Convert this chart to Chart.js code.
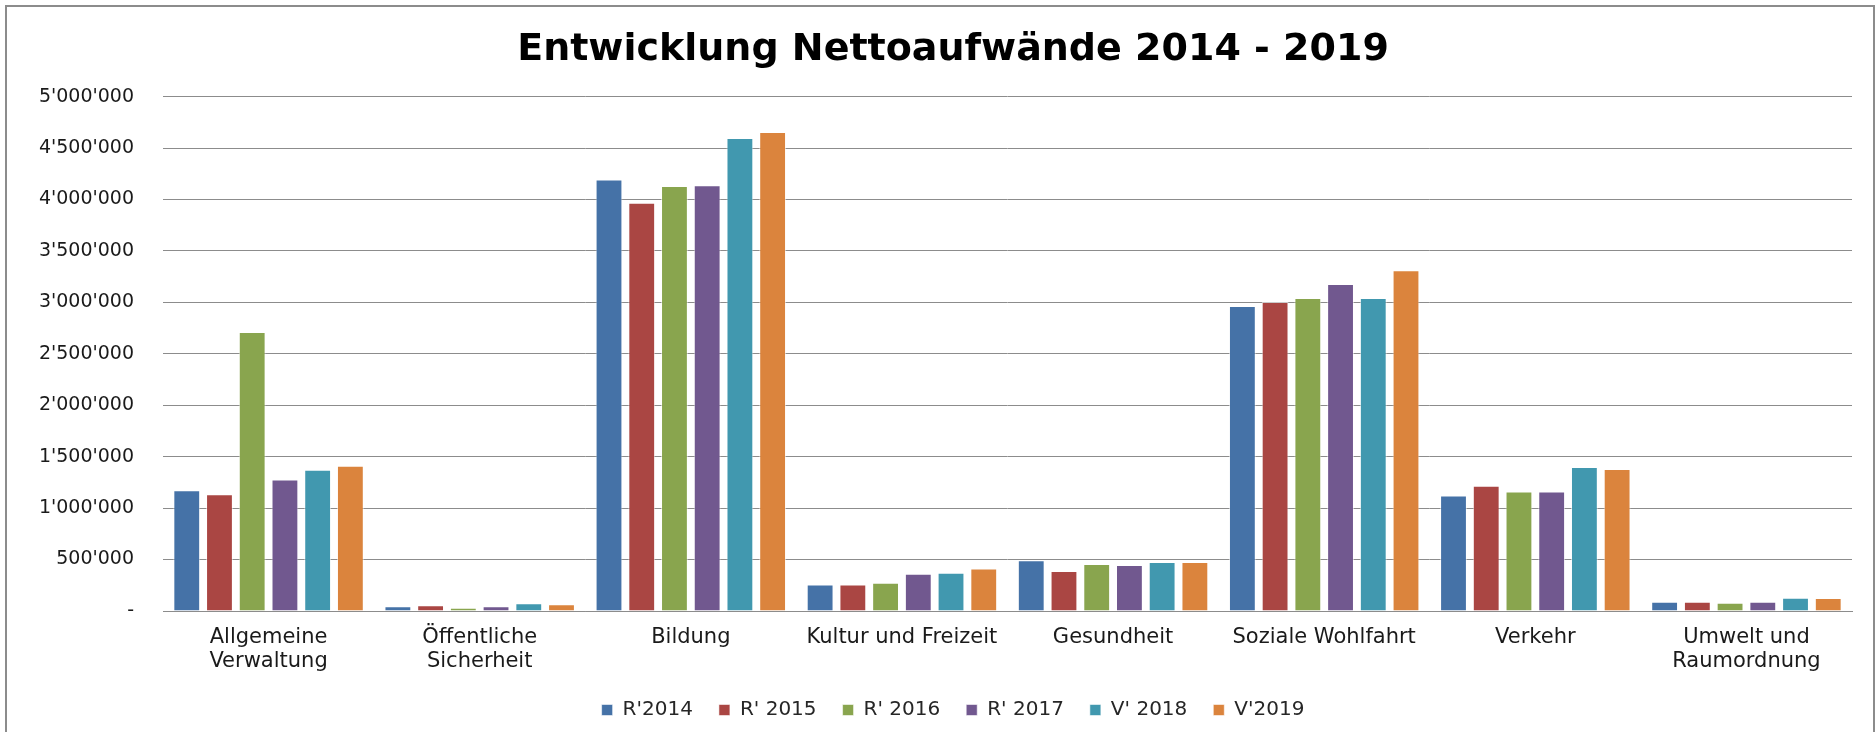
<!DOCTYPE html>
<html>
<head>
<meta charset="utf-8">
<title>Entwicklung Nettoaufwände</title>
<script src="https://cdn.jsdelivr.net/npm/chart.js@4.4.1/dist/chart.umd.min.js"></script>
<style>
    html, body { margin: 0; padding: 0; background: #fff; overflow: hidden; }
    #frame {
        position: absolute;
        left: 5px;
        top: 5px;
        width: 1866px;
        height: 740px;
        border: 2px solid #8c8c8c;
        background: #fff;
    }
    #chart_canvas { display: block; }
</style>
</head>
<body>
<div id="frame">
    <canvas id="chart_canvas" width="1866" height="725"></canvas>
</div>
<script>
var categories = [
    ['Allgemeine', 'Verwaltung'],
    ['Öffentliche', 'Sicherheit'],
    'Bildung',
    'Kultur und Freizeit',
    'Gesundheit',
    'Soziale Wohlfahrt',
    'Verkehr',
    ['Umwelt und', 'Raumordnung']
];
var seriesNames = ["R'2014", "R' 2015", "R' 2016", "R' 2017", "V' 2018", "V'2019"];
var r2014 = [1173000, 45000, 4195000, 258000, 494000, 2964000, 1122000, 91000];
var r2015 = [1135000, 55000, 3968000, 258000, 390000, 3003000, 1217000, 91000];
var r2016 = [2711000, 32000, 4130000, 275000, 458000, 3042000, 1162000, 81000];
var r2017 = [1279000, 45000, 4139000, 363000, 448000, 3179000, 1162000, 91000];
var v2018 = [1373000, 75000, 4597000, 373000, 477000, 3042000, 1399000, 130000];
var v2019 = [1413000, 65000, 4656000, 412000, 477000, 3312000, 1380000, 127000];
var yTicks = [0, 500000, 1000000, 1500000, 2000000, 2500000, 3000000, 3500000, 4000000, 4500000, 5000000];

var barColors = ["#4572A7", "#AA4643", "#89A54E", "#71588F", "#4198AF", "#DB843D"];
var allValues = [r2014, r2015, r2016, r2017, v2018, v2019];

function formatSwiss(v) {
    if (v == 0)
        return '-';
    return String(v).replace(/\B(?=(\d{3})+(?!\d))/g, "'");
}

var datasets = [];
for (var i = 0; i < seriesNames.length; i++) {
    datasets.push({
        label: seriesNames[i],
        data: allValues[i],
        backgroundColor: barColors[i],
        borderColor: 'rgba(255,255,255,0.55)',
        borderWidth: 1,
        barPercentage: 0.82,
        categoryPercentage: 0.93
    });
}

// excel centres title + legend a little more to the right than chart.js does
var shiftHeader = {
    id: 'shiftHeader',
    afterLayout: function (chart) {
        var dx = 8;
        if (chart.titleBlock) {
            chart.titleBlock.left += dx;
            chart.titleBlock.right += dx;
        }
        if (chart.legend) {
            chart.legend.left += dx;
            chart.legend.right += dx;
        }
    }
};

var myChart = new Chart('chart_canvas', {
    type: 'bar',
    data: {
        labels: categories,
        datasets: datasets
    },
    plugins: [shiftHeader],
    options: {
        responsive: false,
        animation: false,
        layout: {
            padding: { left: 31, right: 21, top: 0, bottom: 2 }
        },
        plugins: {
            title: {
                display: true,
                text: 'Entwicklung Nettoaufwände 2014 - 2019',
                color: '#000',
                font: { family: 'DejaVu Sans', size: 38, weight: 'bold' },
                padding: { top: 20, bottom: 24 }
            },
            legend: {
                position: 'bottom',
                labels: {
                    color: '#262626',
                    font: { family: 'DejaVu Sans', size: 20 },
                    boxWidth: 11,
                    boxHeight: 11,
                    padding: 26
                }
            },
            tooltip: { enabled: false }
        },
        scales: {
            x: {
                grid: { display: false, drawTicks: false },
                border: { display: true, color: '#8c8c8c', width: 1 },
                ticks: {
                    color: '#1a1a1a',
                    font: { family: 'DejaVu Sans', size: 21, lineHeight: '24px' },
                    padding: 15,
                    maxRotation: 0,
                    autoSkip: false
                },
                afterFit: function (scale) {
                    scale.height = 63;
                }
            },
            y: {
                min: 0,
                max: 5000000,
                afterBuildTicks: function (scale) {
                    scale.ticks = yTicks.map(function (v) { return { value: v }; });
                },
                afterFit: function (scale) {
                    scale.width = 125;
                },
                grid: { color: '#8c8c8c', lineWidth: 1, drawTicks: false },
                border: { display: false },
                ticks: {
                    color: '#1a1a1a',
                    font: { family: 'DejaVu Sans', size: 19 },
                    padding: 29,
                    callback: function (value) {
                        return formatSwiss(value);
                    }
                }
            }
        }
    }
});
</script>
</body>
</html>
